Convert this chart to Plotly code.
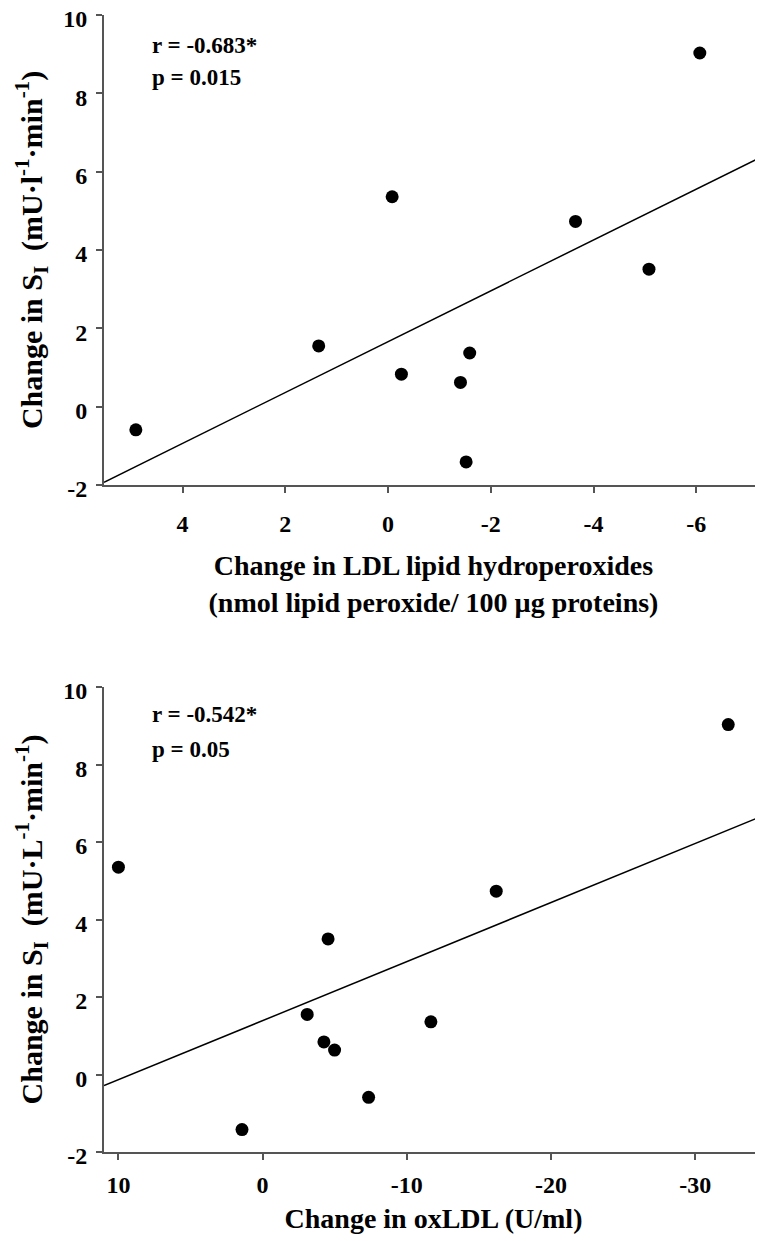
import plotly.graph_objects as go

# ---- data ----
top_x = [4.91, 1.35, -0.08, -0.26, -1.41, -1.59, -1.52, -3.65, -5.08, -6.07]
top_y = [-0.59, 1.55, 5.36, 0.83, 0.62, 1.37, -1.41, 4.73, 3.51, 9.03]
top_fit = [-0.649, 1.66]          # slope, intercept
top_xrange = [5.53, -7.30]

bot_x = [10.0, 1.43, -3.09, -4.25, -4.99, -4.54, -7.35, -11.67, -16.2, -32.29]
bot_y = [5.35, -1.42, 1.55, 0.84, 0.63, 3.50, -0.59, 1.36, 4.73, 9.03]
bot_fit = [-0.1524, 1.39]
bot_xrange = [11.0, -34.7]

y_range = [-2, 10]
y_ticks = [-2, 0, 2, 4, 6, 8, 10]
y_ticktext = ["-2", "0", "2", "4", "6", "8", "10"]
top_xticks = [4, 2, 0, -2, -4, -6]
top_xticktext = ["4", "2", "0", "-2", "-4", "-6"]
bot_xticks = [10, 0, -10, -20, -30]
bot_xticktext = ["10", "0", "-10", "-20", "-30"]

top_stats = ["r = -0.683*", "p = 0.015"]
bot_stats = ["r = -0.542*", "p = 0.05"]

FONT = "Liberation Serif"
PAGE_OFF = 8                 # default body margin of the page
W, H = 763 - PAGE_OFF, 1241 - PAGE_OFF
ML, MR, MT, MB = 104 - PAGE_OFF, 0, 15 - PAGE_OFF, 89
plot_h = H - MT - MB
plot_bottom_page = PAGE_OFF + H - MB

def frac(py):
    return (plot_bottom_page - py) / plot_h

fig = go.Figure()

def add_panel(xs, ys, fit, xr, xa, ya):
    fig.add_trace(go.Scatter(x=xs, y=ys, mode="markers", xaxis=xa, yaxis=ya,
                             marker=dict(color="black", size=13), showlegend=False,
                             cliponaxis=False))
    lx = [xr[0], xr[1]]
    ly = [fit[0] * v + fit[1] for v in lx]
    fig.add_trace(go.Scatter(x=lx, y=ly, mode="lines", xaxis=xa, yaxis=ya,
                             line=dict(color="black", width=1.5), showlegend=False))

add_panel(top_x, top_y, top_fit, top_xrange, "x", "y")
add_panel(bot_x, bot_y, bot_fit, bot_xrange, "x2", "y2")

axis_common = dict(showgrid=False, zeroline=False, showline=True,
                   linecolor="#555", linewidth=2, ticks="outside", ticklen=6,
                   tickcolor="#555", tickwidth=1.5, ticklabeloverflow="allow",
                   tickfont=dict(family=FONT, size=24, color="black", weight="bold"))

title_font = dict(family=FONT, size=28, color="black", weight="bold")
ytitle_font = dict(family=FONT, size=30, color="black", weight="bold")

fig.update_layout(
    width=W, height=H,
    margin=dict(l=ML, r=MR, t=MT, b=MB, autoexpand=False),
    plot_bgcolor="white", paper_bgcolor="white",
    xaxis=dict(axis_common, domain=[0, 1], range=top_xrange,
               tickvals=top_xticks, ticktext=top_xticktext,
               anchor="y", ticklabelstandoff=10,
               title=dict(text="Change in LDL lipid hydroperoxides<br>(nmol lipid peroxide/ 100 µg proteins)",
                          font=title_font, standoff=20)),
    yaxis=dict(axis_common, domain=[frac(485), 1.0], range=y_range,
               tickvals=y_ticks, ticktext=y_ticktext,
               anchor="x", ticklabelstandoff=4, ticklabelshift=4,
               title=dict(text="Change in S<sub>I</sub>  (mU·l<sup>-1</sup>·min<sup>-1</sup>)",
                          font=ytitle_font, standoff=12)),
    xaxis2=dict(axis_common, domain=[0, 1], range=bot_xrange,
                tickvals=bot_xticks, ticktext=bot_xticktext,
                anchor="y2", ticklabelstandoff=4,
                title=dict(text="Change in oxLDL (U/ml)", font=title_font, standoff=12)),
    yaxis2=dict(axis_common, domain=[0, frac(687)], range=y_range,
                tickvals=y_ticks, ticktext=y_ticktext,
                anchor="x2", ticklabelstandoff=4, ticklabelshift=4,
                title=dict(text="Change in S<sub>I</sub>  (mU·L<sup>-1</sup>·min<sup>-1</sup>)",
                           font=ytitle_font, standoff=12)),
)

ann_font = dict(family=FONT, size=23, color="black", weight="bold")
for txt, yd in zip(top_stats, [0.936, 0.866]):
    fig.add_annotation(text=txt, xref="x domain", yref="y domain", x=0.07, y=yd,
                       xanchor="left", yanchor="middle", showarrow=False, font=ann_font)
for txt, yd in zip(bot_stats, [0.94, 0.865]):
    fig.add_annotation(text=txt, xref="x2 domain", yref="y2 domain", x=0.07, y=yd,
                       xanchor="left", yanchor="middle", showarrow=False, font=ann_font)

fig.write_html("out.html")
